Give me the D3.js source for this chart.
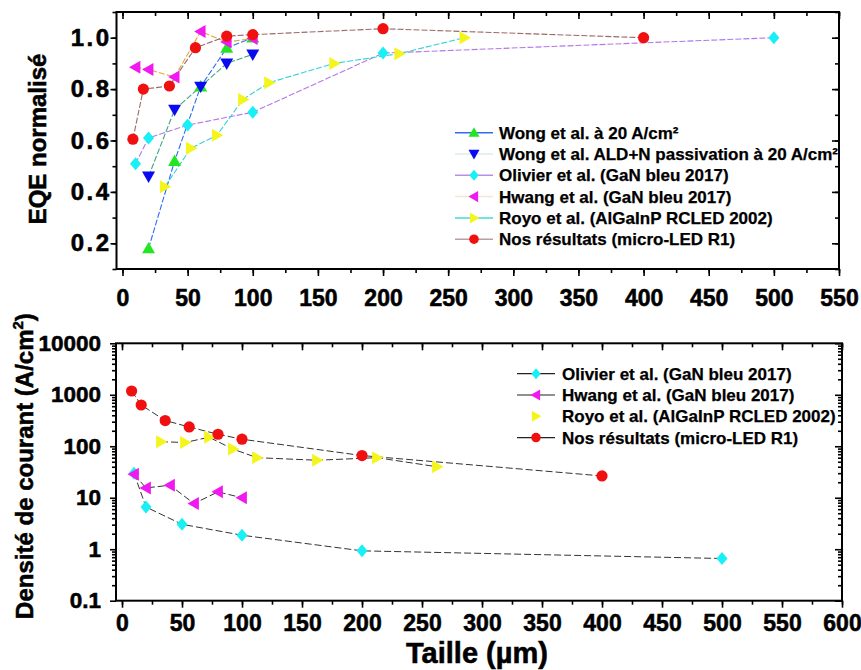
<!DOCTYPE html>
<html><head><meta charset="utf-8">
<script src="https://cdn.jsdelivr.net/npm/d3@7"></script>
<style>
body{margin:0;background:#fff}
svg text{font-family:"Liberation Sans",Arial,sans-serif;font-weight:bold;fill:#000}
.heavy{stroke:#000;stroke-width:0.55px}
</style></head><body>
<svg id="c" width="861" height="670"></svg>
<script>
// ---------- DATA ----------
// Top panel: normalised EQE vs size
const wong20X = [20, 40, 60, 80, 100];
const wong20Y = [0.18, 0.52, 0.81, 0.96, 1.0];
const wongAldX = [20, 40, 60, 80, 100];
const wongAldY = [0.46, 0.72, 0.81, 0.90, 0.935];
const olivierX = [10, 20, 50, 100, 200, 500];
const olivierEqe = [0.51, 0.61, 0.66, 0.71, 0.94, 1.0];
const hwangX = [10, 20, 40, 60, 80, 100];
const hwangEqe = [0.885, 0.876, 0.847, 1.024, 0.983, 0.997];
const royoX = [32.5, 52.5, 72.5, 92.5, 112.5, 162.5, 212.5, 262.5];
const royoEqe = [0.42, 0.57, 0.62, 0.76, 0.825, 0.90, 0.938, 1.0];
const nosX = [8, 16, 36, 56, 80, 100, 200, 400];
const nosEqe = [0.605, 0.80, 0.812, 0.961, 1.006, 1.012, 1.035, 1.0];
// Bottom panel: current density (A/cm²) vs size
const olivierJ = [30, 6.6, 3.05, 1.87, 0.93, 0.66];
const hwangJ = [28.5, 15.5, 17.5, 7.7, 13, 10];
const royoJ = [123, 118, 150, 88, 60, 53.5, 60, 40];
const nosJ = [1185, 633, 316, 237, 171, 137, 66, 26.5];

const topLegend = ["Wong et al. à 20 A/cm²", "Wong et al. ALD+N passivation à 20 A/cm²",
  "Olivier et al. (GaN bleu 2017)", "Hwang et al. (GaN bleu 2017)",
  "Royo et al. (AlGaInP RCLED 2002)", "Nos résultats (micro-LED R1)"];
const botLegend = ["Olivier et al. (GaN bleu 2017)", "Hwang et al. (GaN bleu 2017)",
  "Royo et al. (AlGaInP RCLED 2002)", "Nos résultats (micro-LED R1)"];
const topXTicks = [0,50,100,150,200,250,300,350,400,450,500,550];
const botXTicks = [0,50,100,150,200,250,300,350,400,450,500,550,600];
const topYTicks = [0.2,0.4,0.6,0.8,1.0];
const botYTicks = [0.1,1,10,100,1000,10000];

// ---------- STYLE ----------
const svg = d3.select("#c");
const R = 6.5;
const shapes = {
  up:    `M0,${-R}L${R},${R*0.75}L${-R},${R*0.75}Z`,
  down:  `M0,${R}L${R},${-R*0.75}L${-R},${-R*0.75}Z`,
  left:  `M${-R},0L${R*0.75},${-R}L${R*0.75},${R}Z`,
  right: `M${R},0L${-R*0.75},${-R}L${-R*0.75},${R}Z`,
  diamond: `M0,${-R}L${R*0.85},0L0,${R}L${-R*0.85},0Z`,
  circle: d3.symbol().type(d3.symbolCircle).size(Math.PI*5.6*5.6)()
};

// ---------- SCALES ----------
const xT = d3.scaleLinear().domain([-4.6, 550]).range([116.5, 839]);
const yT = d3.scaleLinear().domain([0.1, 1.1]).range([269, 12]);
const xB = d3.scaleLinear().domain([-5, 600]).range([116, 842]);
const yB = d3.scaleLog().domain([0.1, 10000]).range([600.7, 343.3]);

function frame(x0, x1, y0, y1){
  svg.append("rect").attr("x",x0).attr("y",y0).attr("width",x1-x0).attr("height",y1-y0)
    .attr("fill","none").attr("stroke","#000").attr("stroke-width",2);
}
function styleAxis(g, fs){
  g.select(".domain").remove();
  g.selectAll("line").attr("stroke","#000").attr("stroke-width",1.6);
  g.selectAll("text").attr("font-size",fs).attr("fill","#000").attr("class","heavy");
}

// ---------- TOP PANEL ----------
const tb = 269, tt = 12, tl = 116.5, tr = 839;
const topMinorX = d3.range(0, 551, 25);
const topMinorY = d3.range(0.1, 1.101, 0.1).map(v=>+v.toFixed(2));
svg.append("g").attr("transform",`translate(0,${tb})`).call(d3.axisBottom(xT).tickValues(topMinorX).tickSize(4).tickFormat("")).call(g=>styleAxis(g,0));
svg.append("g").attr("transform",`translate(0,${tb})`).call(d3.axisBottom(xT).tickValues(topXTicks).tickSize(7).tickPadding(14).tickFormat(d3.format("d"))).call(g=>styleAxis(g,23));
svg.append("g").attr("transform",`translate(0,${tt})`).call(d3.axisBottom(xT).tickValues(topMinorX).tickSize(4).tickFormat("")).call(g=>styleAxis(g,0));
svg.append("g").attr("transform",`translate(0,${tt})`).call(d3.axisBottom(xT).tickValues(topXTicks).tickSize(7).tickFormat("")).call(g=>styleAxis(g,0));
svg.append("g").attr("transform",`translate(${tl},0)`).call(d3.axisLeft(yT).tickValues(topMinorY).tickSize(4).tickFormat("")).call(g=>styleAxis(g,0));
svg.append("g").attr("transform",`translate(${tl},0)`).call(d3.axisLeft(yT).tickValues(topYTicks).tickSize(6).tickPadding(-1).tickFormat(d3.format(".1f")))
  .call(g=>styleAxis(g,24)).call(g=>g.selectAll("text").attr("letter-spacing","2.5px"));
svg.append("g").attr("transform",`translate(${tr},0)`).call(d3.axisLeft(yT).tickValues(topMinorY).tickSize(4).tickFormat("")).call(g=>styleAxis(g,0));
svg.append("g").attr("transform",`translate(${tr},0)`).call(d3.axisLeft(yT).tickValues(topYTicks).tickSize(7).tickFormat("")).call(g=>styleAxis(g,0));
frame(tl, tr, tt, tb);

svg.append("text").attr("class","heavy").attr("transform","translate(46,139) rotate(-90)").attr("text-anchor","middle")
  .attr("font-size",24).text("EQE normalisé");

const topSeries = [
  {x: wong20X, y: wong20Y, line:"#2f6df5", shape:"up", fill:"#22e622", leg:"#2f6df5"},
  {x: wongAldX, y: wongAldY, line:"#3fa57e", shape:"down", fill:"#0a0af0", leg:"#dcecec"},
  {x: olivierX, y: olivierEqe, line:"#b377e8", shape:"diamond", fill:"#19f0f5", leg:"#b98de8"},
  {x: hwangX, y: hwangEqe, line:"#e3a53a", shape:"left", fill:"#f019f0", leg:"#f2e6d8"},
  {x: royoX, y: royoEqe, line:"#35d2d2", shape:"right", fill:"#f5f51e", leg:"#45d8d8"},
  {x: nosX, y: nosEqe, line:"#9a6a6a", shape:"circle", fill:"#f01010", leg:"#b8a0a0"}
];
const lineT = d3.line().x(d=>xT(d[0])).y(d=>yT(d[1]));
topSeries.forEach(s=>{
  const pts = s.x.map((v,i)=>[v, s.y[i]]);
  svg.append("path").attr("d",lineT(pts)).attr("fill","none").attr("stroke",s.line)
    .attr("stroke-width",1.1).attr("stroke-dasharray","6,2");
});
topSeries.forEach(s=>{
  s.x.forEach((v,i)=>{
    svg.append("path").attr("d",shapes[s.shape]).attr("transform",`translate(${xT(v)},${yT(s.y[i])})`)
      .attr("fill",s.fill);
  });
});
topLegend.forEach((t,i)=>{
  const y = 132.7 + i*21.3, s = topSeries[i];
  svg.append("line").attr("x1",455).attr("x2",493).attr("y1",y).attr("y2",y).attr("stroke",s.leg).attr("stroke-width",1.5);
  svg.append("path").attr("d",shapes[s.shape]).attr("transform",`translate(474,${y}) scale(0.85)`).attr("fill",s.fill);
  svg.append("text").attr("x",499).attr("y",y+6).attr("font-size",17).attr("stroke","#000").attr("stroke-width",0.25).text(t);
});

// ---------- BOTTOM PANEL ----------
const bb = 600.7, bt = 343.3, bl = 116, br = 842;
const botMinorX = d3.range(0, 601, 25);
const botMinorY = [];
[0.1,1,10,100,1000].forEach(d=>{ for(let k=2;k<=9;k++) botMinorY.push(d*k); });
svg.append("g").attr("transform",`translate(0,${bb})`).call(d3.axisBottom(xB).tickValues(botMinorX).tickSize(4).tickFormat("")).call(g=>styleAxis(g,0));
svg.append("g").attr("transform",`translate(0,${bb})`).call(d3.axisBottom(xB).tickValues(botXTicks).tickSize(7).tickPadding(7).tickFormat(d3.format("d"))).call(g=>styleAxis(g,23));
svg.append("g").attr("transform",`translate(0,${bt})`).call(d3.axisBottom(xB).tickValues(botMinorX).tickSize(4).tickFormat("")).call(g=>styleAxis(g,0));
svg.append("g").attr("transform",`translate(0,${bt})`).call(d3.axisBottom(xB).tickValues(botXTicks).tickSize(7).tickFormat("")).call(g=>styleAxis(g,0));
svg.append("g").attr("transform",`translate(${bl},0)`).call(d3.axisLeft(yB).tickValues(botMinorY).tickSize(4).tickFormat("")).call(g=>styleAxis(g,0));
svg.append("g").attr("transform",`translate(${bl},0)`).call(d3.axisLeft(yB).tickValues(botYTicks).tickSize(6).tickPadding(9).tickFormat(d=>String(d))).call(g=>styleAxis(g,22.5));
svg.append("g").attr("transform",`translate(${br},0)`).call(d3.axisLeft(yB).tickValues(botMinorY).tickSize(4).tickFormat("")).call(g=>styleAxis(g,0));
svg.append("g").attr("transform",`translate(${br},0)`).call(d3.axisLeft(yB).tickValues(botYTicks).tickSize(7).tickFormat("")).call(g=>styleAxis(g,0));
frame(bl, br, bt, bb);

const yt = svg.append("text").attr("class","heavy").attr("transform","translate(33,466) rotate(-90)").attr("text-anchor","middle").attr("font-size",24);
yt.append("tspan").text("Densité de courant (A/cm");
yt.append("tspan").attr("font-size",15).attr("dy",-10).text("2");
yt.append("tspan").attr("dy",10).text(")");

svg.append("text").attr("class","heavy").attr("x",477).attr("y",663).attr("text-anchor","middle").attr("font-size",29).text("Taille (µm)");

const botSeries = [
  {x: olivierX, y: olivierJ, shape:"diamond", fill:"#19f0f5", legLine:true},
  {x: hwangX, y: hwangJ, shape:"left", fill:"#f019f0", legLine:true},
  {x: royoX, y: royoJ, shape:"right", fill:"#f5f51e", legLine:false},
  {x: nosX, y: nosJ, shape:"circle", fill:"#f01010", legLine:true}
];
const lineB = d3.line().x(d=>xB(d[0])).y(d=>yB(d[1]));
botSeries.forEach(s=>{
  const pts = s.x.map((v,i)=>[v, s.y[i]]);
  svg.append("path").attr("d",lineB(pts)).attr("fill","none").attr("stroke","#333")
    .attr("stroke-width",1).attr("stroke-dasharray","7,3");
});
botSeries.forEach(s=>{
  s.x.forEach((v,i)=>{
    svg.append("path").attr("d",shapes[s.shape]).attr("transform",`translate(${xB(v)},${yB(s.y[i])})`)
      .attr("fill",s.fill);
  });
});
botLegend.forEach((t,i)=>{
  const y = 373.7 + i*21.3, s = botSeries[i];
  if (s.legLine) svg.append("line").attr("x1",517).attr("x2",555).attr("y1",y).attr("y2",y).attr("stroke","#222").attr("stroke-width",1.2);
  svg.append("path").attr("d",shapes[s.shape]).attr("transform",`translate(536,${y}) scale(0.85)`).attr("fill",s.fill);
  svg.append("text").attr("x",562).attr("y",y+6).attr("font-size",17).attr("stroke","#000").attr("stroke-width",0.25).text(t);
});
</script></body></html>
